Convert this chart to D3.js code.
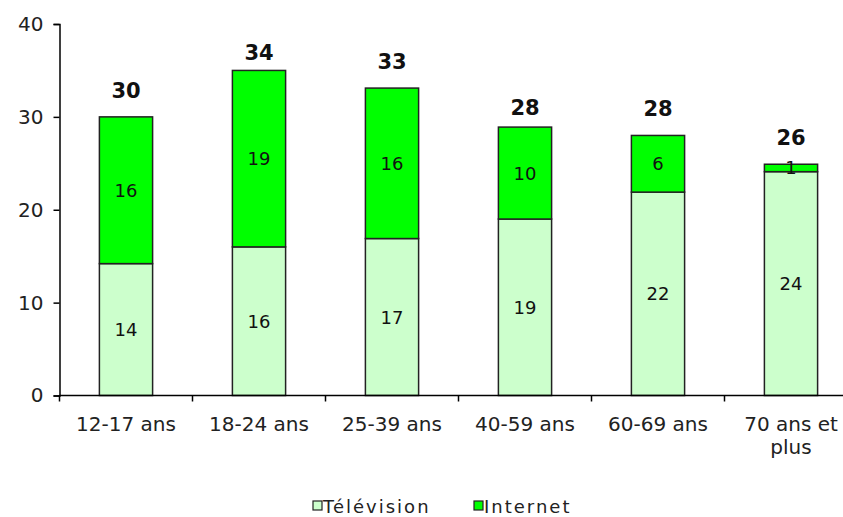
<!DOCTYPE html>
<html>
<head>
<meta charset="utf-8">
<script src="https://cdn.jsdelivr.net/npm/d3@7/dist/d3.min.js"></script>
<style>
  body { margin: 0; background: #fff; }
  svg { display: block; font-family: "DejaVu Sans", Verdana, sans-serif; }
</style>
</head>
<body>
<svg id="chart"></svg>
<script>
// tranches d'age et valeurs
var categories = ["12-17 ans", "18-24 ans", "25-39 ans", "40-59 ans", "60-69 ans", "70 ans et plus"];
var television = [14.2, 16.0, 16.9, 19.0, 21.9, 24.1];
var internet = [15.8, 19.0, 16.2, 9.9, 6.1, 0.8];
// etiquettes affichees (arrondies)
var tvLabels = ["14", "16", "17", "19", "22", "24"];
var netLabels = ["16", "19", "16", "10", "6", "1"];
var totalLabels = [30, 34, 33, 28, 28, 26];
var yTicks = [0, 10, 20, 30, 40];
var seriesNames = ["Télévision", "Internet"];
var colors = {"Télévision": "#ccffcc", "Internet": "#00ff00"};

var width = 843, height = 517;
var margin = {left: 59.5, top: 24, bottom: 122};

var svg = d3.select("#chart").attr("width", width).attr("height", height);

var x = d3.scaleBand()
  .domain(categories)
  .range([margin.left, margin.left + 6 * 133]);

var y = d3.scaleLinear()
  .domain([0, 40])
  .range([height - margin.bottom + 0.5, margin.top]);

var barW = x.bandwidth() * 0.4;

// axe Y
var yAxis = svg.append("g")
  .attr("transform", "translate(" + margin.left + ",0)")
  .call(d3.axisLeft(y).tickValues(yTicks).tickSize(6).tickPadding(10));
yAxis.select(".domain").attr("stroke", "#000").attr("stroke-width", 1.5);
yAxis.selectAll(".tick line").attr("stroke", "#000").attr("stroke-width", 1.5);
yAxis.selectAll("text").attr("font-size", 20).attr("fill", "#222")
  .attr("font-family", "DejaVu Sans, sans-serif");

// barres empilees
var stacked = categories.map(function(c, i) {
  return {cat: c, tv: television[i], net: internet[i], i: i};
});

var g = svg.append("g");

g.selectAll(".tv").data(stacked).enter().append("rect")
  .attr("class", "tv")
  .attr("x", function(d) { return x(d.cat) + (x.bandwidth() - barW) / 2; })
  .attr("y", function(d) { return y(d.tv); })
  .attr("width", barW)
  .attr("height", function(d) { return y(0) - y(d.tv); })
  .attr("fill", colors["Télévision"])
  .attr("stroke", "#222").attr("stroke-width", 1.5);

g.selectAll(".net").data(stacked).enter().append("rect")
  .attr("class", "net")
  .attr("x", function(d) { return x(d.cat) + (x.bandwidth() - barW) / 2; })
  .attr("y", function(d) { return y(d.tv + d.net); })
  .attr("width", barW)
  .attr("height", function(d) { return y(d.tv) - y(d.tv + d.net); })
  .attr("fill", colors["Internet"])
  .attr("stroke", "#222").attr("stroke-width", 1.5);

// etiquettes dans les barres
g.selectAll(".tvlab").data(stacked).enter().append("text")
  .attr("x", function(d) { return x(d.cat) + x.bandwidth() / 2; })
  .attr("y", function(d) { return (y(0) + y(d.tv)) / 2; })
  .attr("dy", "0.36em")
  .attr("text-anchor", "middle")
  .attr("font-size", 18).attr("fill", "#111")
  .text(function(d) { return tvLabels[d.i]; });

g.selectAll(".netlab").data(stacked).enter().append("text")
  .attr("x", function(d) { return x(d.cat) + x.bandwidth() / 2; })
  .attr("y", function(d) { return (y(d.tv) + y(d.tv + d.net)) / 2; })
  .attr("dy", "0.36em")
  .attr("text-anchor", "middle")
  .attr("font-size", 18).attr("fill", "#111")
  .text(function(d) { return netLabels[d.i]; });

// totaux en gras au-dessus
g.selectAll(".total").data(stacked).enter().append("text")
  .attr("x", function(d) { return x(d.cat) + x.bandwidth() / 2; })
  .attr("y", function(d) {
    return Math.max(y(totalLabels[d.i]) - 20, y(d.tv + d.net) - 19);
  })
  .attr("text-anchor", "middle")
  .attr("font-size", 21).attr("font-weight", "bold").attr("fill", "#111")
  .text(function(d) { return totalLabels[d.i]; });

// axe X
var xAxis = svg.append("g")
  .attr("transform", "translate(0," + y(0) + ")");
xAxis.append("line")
  .attr("x1", margin.left).attr("x2", width)
  .attr("stroke", "#000").attr("stroke-width", 1.5);
var bounds = categories.map(function(c) { return x(c); }).concat([x.range()[1]]);
xAxis.selectAll(".xt").data(bounds).enter().append("line")
  .attr("x1", function(d) { return d; }).attr("x2", function(d) { return d; })
  .attr("y1", 0).attr("y2", 6)
  .attr("stroke", "#000").attr("stroke-width", 1.5);

var catLab = xAxis.selectAll(".cl").data(categories).enter().append("text")
  .attr("x", function(d) { return x(d) + x.bandwidth() / 2; })
  .attr("y", 35)
  .attr("text-anchor", "middle")
  .attr("font-size", 20).attr("fill", "#222");
catLab.each(function(d) {
  var t = d3.select(this);
  var lines = d === "70 ans et plus" ? ["70 ans et", "plus"] : [d];
  lines.forEach(function(l, k) {
    t.append("tspan")
      .attr("x", x(d) + x.bandwidth() / 2)
      .attr("dy", k === 0 ? 0 : 23)
      .text(l);
  });
});

// legende
var legendX = [313, 474];
var legend = svg.append("g");
seriesNames.forEach(function(s, i) {
  legend.append("rect")
    .attr("x", legendX[i]).attr("y", 501)
    .attr("width", 9).attr("height", 9)
    .attr("fill", colors[s]).attr("stroke", "#222").attr("stroke-width", 1.2);
  legend.append("text")
    .attr("x", legendX[i] + 10).attr("y", 513)
    .attr("font-size", 18).attr("letter-spacing", 2).attr("fill", "#222")
    .text(s);
});
</script>
</body>
</html>
